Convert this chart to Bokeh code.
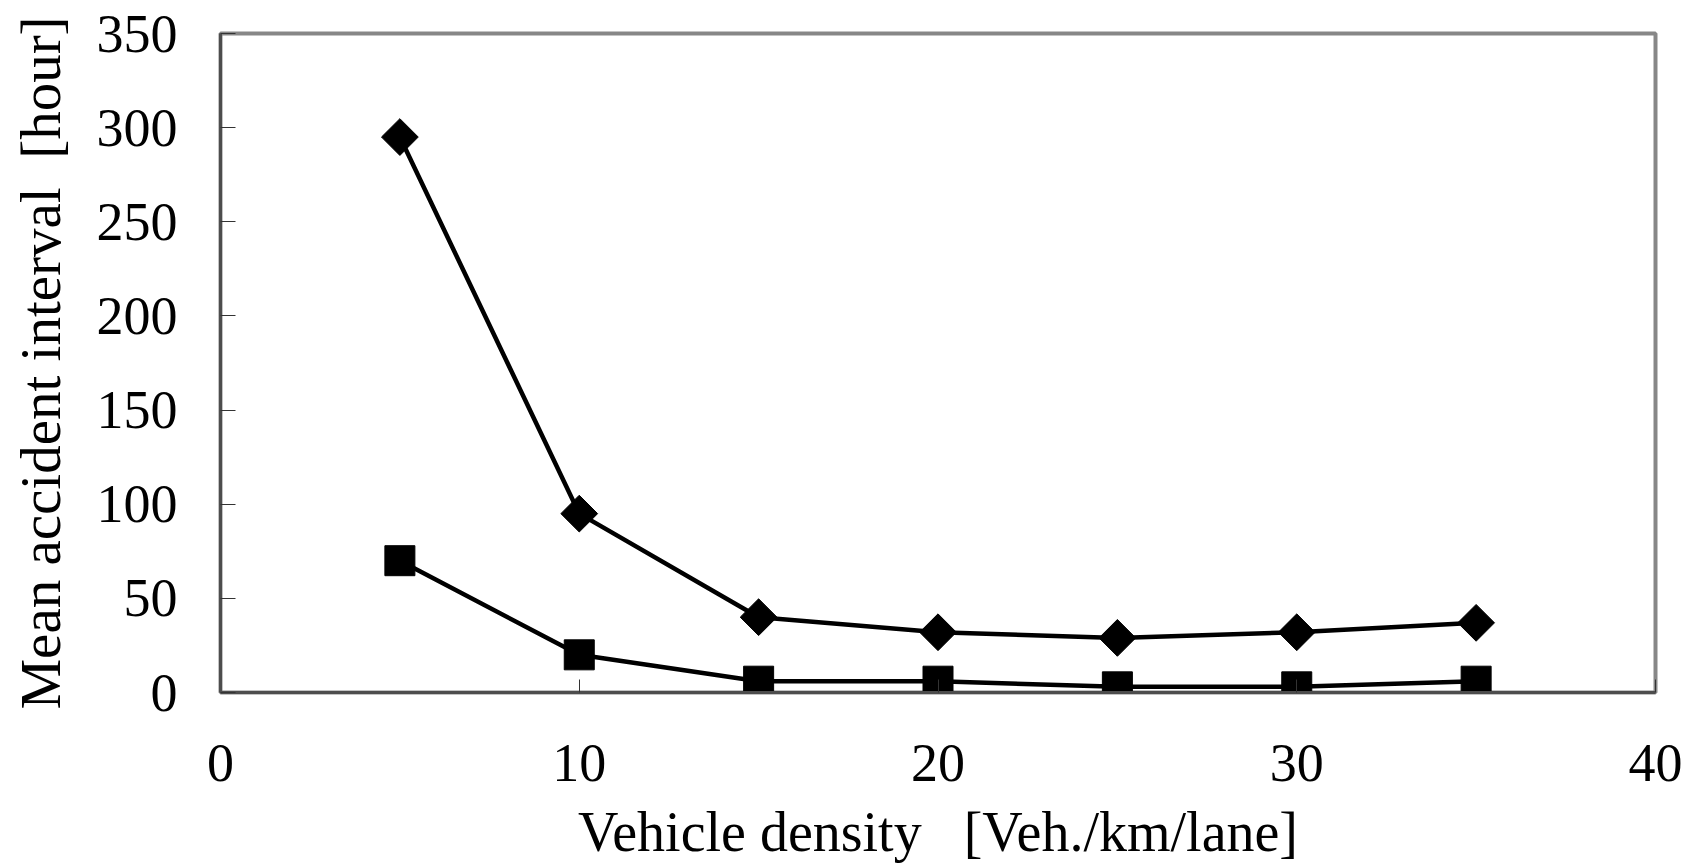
import numpy as np
from bokeh.plotting import figure
from bokeh.models import FixedTicker, Range1d
from bokeh.embed import file_html
from bokeh.resources import INLINE

# Data
density = [5, 10, 15, 20, 25, 30, 35]
series_diamond = [295, 95, 40, 32, 29, 32, 37]
series_square = [70, 20, 6, 6, 3, 3, 6]
x_ticks = [0, 10, 20, 30, 40]
y_ticks = [0, 50, 100, 150, 200, 250, 300, 350]
x_title = "Vehicle density\u00a0\u00a0 [Veh./km/lane]"
y_title = "Mean accident interval\u00a0 [hour]"

FONT = "Liberation Serif"
W, H = 1691, 865
FRAME_L, FRAME_R, FRAME_T, FRAME_B = 220, 1655, 33, 693

p = figure(width=W, height=H, output_backend="svg", toolbar_location=None,
           x_range=Range1d(0, 40), y_range=Range1d(0, 350),
           min_border_left=FRAME_L, min_border_right=W - FRAME_R,
           min_border_top=FRAME_T, min_border_bottom=H - FRAME_B)

p.background_fill_color = "white"
p.border_fill_color = "white"
p.outline_line_color = "#878787"
p.outline_line_width = 4
p.xgrid.visible = False
p.ygrid.visible = False

# lines
p.line(density, series_diamond, line_color="black", line_width=4.5)
p.line(density, series_square, line_color="black", line_width=4.5)
# markers
p.scatter(density, series_diamond, marker="square", angle=np.pi / 4, size=26,
          fill_color="black", line_color="black")
p.scatter(density, series_square, marker="square", size=30,
          fill_color="black", line_color="black")

for ax in (p.xaxis[0], p.yaxis[0]):
    ax.axis_line_color = "#4d4d4d"
    ax.axis_line_width = 3
    ax.major_tick_out = 0
    ax.minor_tick_in = 0
    ax.minor_tick_out = 0
    ax.major_tick_line_color = "#333333"
    ax.major_tick_line_width = 1
    ax.major_label_text_font = FONT
    ax.major_label_text_font_size = "54px"
    ax.major_label_text_color = "black"
    ax.axis_label_text_font = FONT
    ax.axis_label_text_font_style = "normal"
    ax.axis_label_text_color = "black"

p.xaxis.ticker = FixedTicker(ticks=x_ticks)
p.yaxis.ticker = FixedTicker(ticks=y_ticks)
p.xaxis.major_tick_in = 13
p.yaxis.major_tick_in = 15
p.xaxis.major_label_standoff = 52
p.yaxis.major_label_standoff = 43
p.yaxis.axis_label = y_title
p.yaxis.axis_label_text_font_size = "57px"
p.yaxis.axis_label_standoff = 22
p.xaxis.axis_label = x_title
p.xaxis.axis_label_text_font_size = "56px"
p.xaxis.axis_label_standoff = 17

open("out.html", "w").write(file_html(p, INLINE))
